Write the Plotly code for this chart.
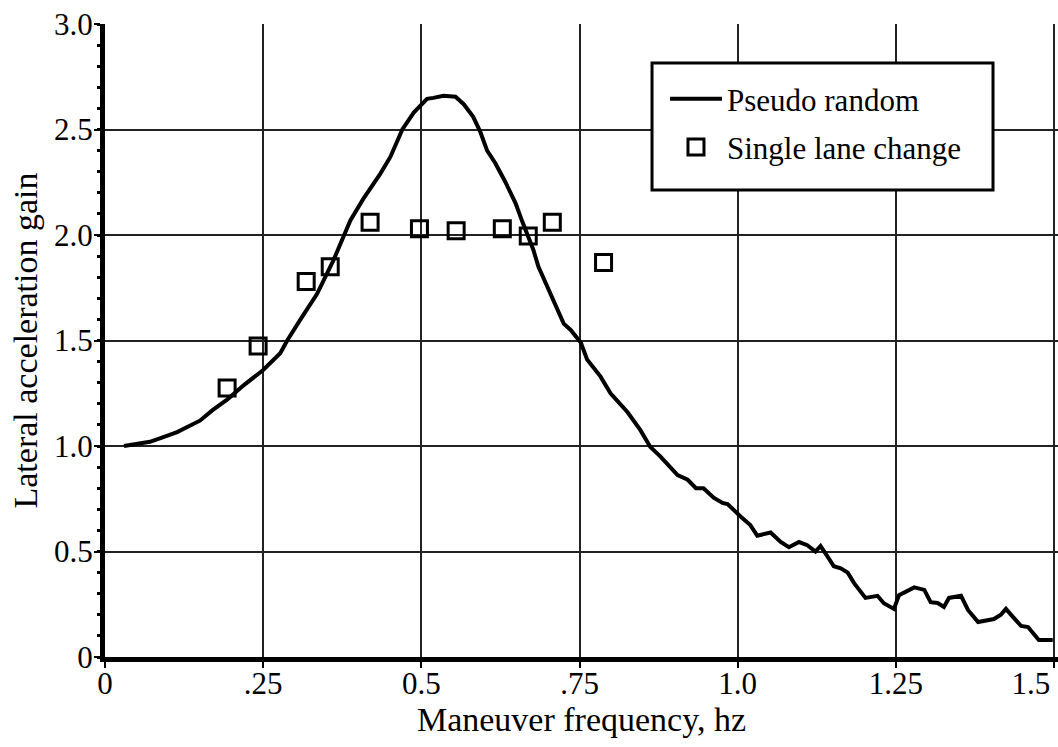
import plotly.graph_objects as go

# Pseudo random curve
freq = [0.03, 0.05, 0.071, 0.09, 0.114, 0.13, 0.150, 0.17, 0.193, 0.22, 0.25, 0.277,
        0.288, 0.309, 0.335, 0.361, 0.38, 0.388, 0.408, 0.435, 0.451, 0.47, 0.488,
        0.509, 0.519, 0.535, 0.554, 0.567, 0.582, 0.593, 0.604, 0.617, 0.633, 0.649,
        0.66, 0.669, 0.677, 0.685, 0.704, 0.725, 0.736, 0.752, 0.762, 0.783, 0.799,
        0.826, 0.846, 0.862, 0.878, 0.905, 0.921, 0.934, 0.946, 0.962, 0.976, 0.984,
        1.005, 1.02, 1.031, 1.052, 1.068, 1.081, 1.097, 1.11, 1.123, 1.131, 1.139,
        1.152, 1.163, 1.174, 1.184, 1.202, 1.221, 1.231, 1.247, 1.255, 1.279, 1.295,
        1.305, 1.316, 1.326, 1.334, 1.353, 1.364, 1.38, 1.396, 1.405, 1.416, 1.424,
        1.435, 1.448, 1.459, 1.476, 1.498]
gain = [1.0, 1.01, 1.02, 1.04, 1.066, 1.09, 1.12, 1.17, 1.22, 1.29, 1.36, 1.44,
        1.50, 1.60, 1.72, 1.88, 2.01, 2.07, 2.17, 2.29, 2.37, 2.50, 2.58,
        2.645, 2.65, 2.66, 2.655, 2.62, 2.56, 2.49, 2.40, 2.34, 2.25, 2.15,
        2.06, 1.99, 1.93, 1.85, 1.72, 1.58, 1.55, 1.49, 1.41, 1.33, 1.25,
        1.16, 1.076, 0.995, 0.95, 0.862, 0.84, 0.80, 0.80, 0.755, 0.73, 0.725,
        0.665, 0.625, 0.575, 0.59, 0.545, 0.52, 0.545, 0.53, 0.50, 0.526, 0.49,
        0.43, 0.42, 0.40, 0.35, 0.28, 0.29, 0.255, 0.228, 0.293, 0.33, 0.318,
        0.26, 0.256, 0.237, 0.28, 0.29, 0.223, 0.166, 0.175, 0.18, 0.20, 0.228,
        0.19, 0.147, 0.142, 0.08, 0.08]

# Single lane change points
slc_freq = [0.193, 0.242, 0.318, 0.356, 0.419, 0.497, 0.555, 0.628, 0.669, 0.707, 0.788]
slc_gain = [1.275, 1.474, 1.78, 1.85, 2.06, 2.03, 2.02, 2.03, 1.995, 2.06, 1.87]

x_ticks = [0, 0.25, 0.5, 0.75, 1.0, 1.25, 1.5]
x_ticktext = ["0", ".25", "0.5", ".75", "1.0", "1.25", "1.5&nbsp;&nbsp;&nbsp;&nbsp;&nbsp;&nbsp;"]
y_ticks = [0, 0.5, 1.0, 1.5, 2.0, 2.5, 3.0]
y_ticktext = ["0", "0.5", "1.0", "1.5", "2.0", "2.5", "3.0"]

FONT = "Liberation Serif, Times New Roman, serif"

fig = go.Figure()
fig.add_trace(go.Scatter(
    x=freq, y=gain, mode="lines", name="Pseudo random",
    line=dict(color="black", width=4), legendgroup="a"))
fig.add_trace(go.Scatter(
    x=slc_freq, y=slc_gain, mode="markers", name="Single lane change",
    marker=dict(symbol="square-open", size=16, color="black", line=dict(width=3)),
    legendgroup="b"))

# legend frame (plot area: x 105..1058, y 24..657)
fig.add_shape(type="rect", xref="paper", yref="paper",
              x0=0.5740, x1=0.9318, y0=0.7378, y1=0.9384,
              line=dict(color="black", width=3), fillcolor="white", layer="above")

fig.update_layout(
    width=1058, height=747,
    margin=dict(l=105, r=0, t=24, b=90),
    paper_bgcolor="white", plot_bgcolor="white",
    font=dict(family=FONT, size=31, color="black"),
    showlegend=True,
    legend=dict(x=0.5876, y=0.924, xanchor="left", yanchor="top",
                bgcolor="rgba(0,0,0,0)", borderwidth=0,
                font=dict(size=31, family=FONT), itemwidth=52,
                tracegroupgap=5),
    xaxis=dict(
        range=[0, 1.5063], tickvals=x_ticks, ticktext=x_ticktext,
        showgrid=True, gridcolor="#222", gridwidth=1.5,
        showline=True, linecolor="black", linewidth=5,
        ticks="outside", ticklen=6, tickwidth=2, tickcolor="black",
        ticklabelstandoff=-11, ticklabeloverflow="allow",
        zeroline=False, automargin="bottom",
        title=dict(text="Maneuver frequency, hz", font=dict(size=34), standoff=4),
        tickfont=dict(size=31)),
    yaxis=dict(
        range=[0, 3.0], tickvals=y_ticks, ticktext=y_ticktext,
        showgrid=True, gridcolor="#222", gridwidth=1.5,
        showline=True, linecolor="black", linewidth=5,
        ticks="outside", ticklen=6, tickwidth=2, tickcolor="black",
        ticklabelstandoff=-5, ticklabeloverflow="allow",
        minor=dict(dtick=0.1, ticks="outside", ticklen=3, tickwidth=3,
                   tickcolor="black", showgrid=False),
        zeroline=False, automargin="left",
        title=dict(text="Lateral acceleration gain", font=dict(size=34), standoff=8),
        tickfont=dict(size=31)),
)

fig.write_html("out.html",
               config={"displayModeBar": False},
               post_script="document.body.style.margin='0px';document.body.style.overflow='hidden';")
